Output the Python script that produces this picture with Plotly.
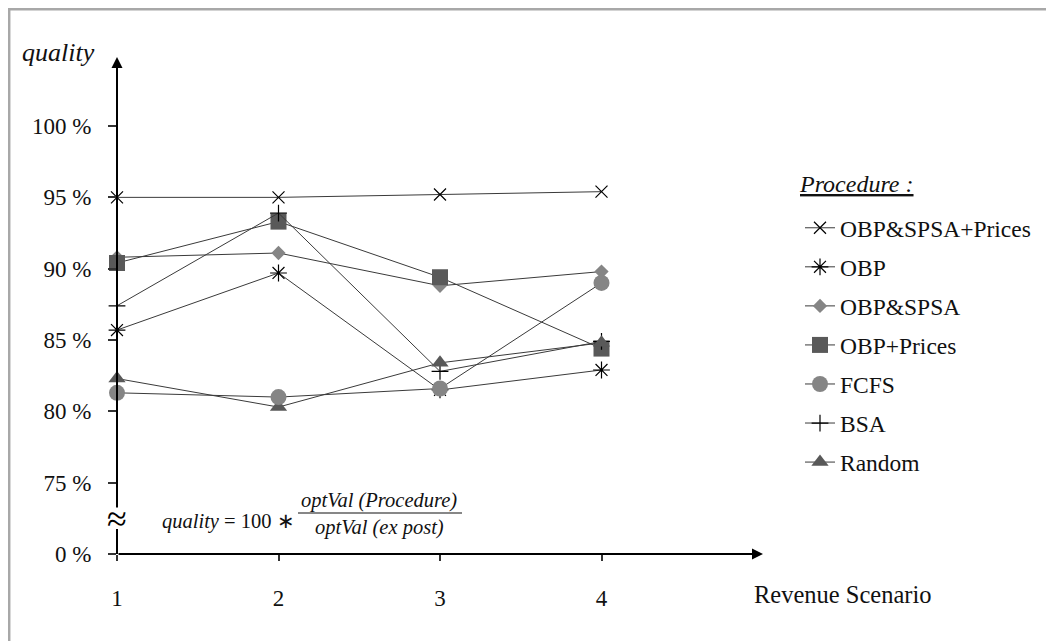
import plotly.graph_objects as go

# ---------------- data ----------------
scenarios = [1, 2, 3, 4]
procedures = ["OBP&SPSA+Prices", "OBP", "OBP&SPSA", "OBP+Prices", "FCFS", "BSA", "Random"]
q_obp_spsa_prices = [95.0, 95.0, 95.2, 95.4]
q_obp = [85.7, 89.7, 81.5, 82.9]
q_obp_spsa = [90.8, 91.1, 88.8, 89.8]
q_obp_prices = [90.4, 93.3, 89.4, 84.4]
q_fcfs = [81.3, 81.0, 81.6, 89.0]
q_bsa = [87.4, 93.9, 82.8, 84.9]
q_random = [82.3, 80.3, 83.4, 84.8]
y_tick_vals = [70, 75, 80, 85, 90, 95, 100]
y_tick_text = ["0 %", "75 %", "80 %", "85 %", "90 %", "95 %", "100 %"]
x_tick_text = ["1", "2", "3", "4"]

FONT = "Liberation Serif"
W, H = 1054, 641
OFF = 8  # default page body margin
L, R, T, B = 117, 763, 57, 554  # plot area in page pixels
FW, FH = W - OFF, H - OFF
Y0, Y1 = 70, 104.84
X0, X1 = 1, 5


def px(x):
    return (x - L) / (R - L)


def py(y):
    return (B - y) / (B - T)


def yv(p):  # page pixel row -> y-axis value (for axis drawing)
    return Y0 + (B - p) * (Y1 - Y0) / (B - T)


styles = [
    dict(symbol="x-thin", size=12, color="black", line=dict(width=1.2, color="black")),
    dict(symbol="asterisk", size=14, color="black", line=dict(width=1.2, color="black")),
    dict(symbol="diamond", size=11, color="#858585", line=dict(width=0)),
    dict(symbol="square", size=16, color="#595959", line=dict(width=0)),
    dict(symbol="circle", size=16, color="#858585", line=dict(width=0)),
    dict(symbol="cross-thin", size=12, color="black", line=dict(width=1.2, color="black")),
    dict(symbol="triangle-up", size=15, color="#595959", line=dict(width=0)),
]
series = [q_obp_spsa_prices, q_obp, q_obp_spsa, q_obp_prices, q_fcfs, q_bsa, q_random]
order = [0, 1, 2, 3, 5, 6, 4]  # drawing order (FCFS on top)

fig = go.Figure()
for i in order:
    fig.add_trace(go.Scatter(
        x=scenarios, y=series[i], name=procedures[i], mode="lines+markers",
        line=dict(color="#3a3a3a", width=1), marker=styles[i],
        legendgroup=procedures[i], legendrank=i + 1, cliponaxis=False,
    ))

fig.update_layout(
    width=FW, height=FH,
    margin=dict(l=L - OFF, r=FW - (R - OFF), t=T - OFF, b=FH - (B - OFF), pad=0),
    paper_bgcolor="white", plot_bgcolor="white",
    font=dict(family=FONT, size=23, color="#111"),
    showlegend=True,
    legend=dict(
        x=px(800), y=py(206), xanchor="left", yanchor="top",
        font=dict(family=FONT, size=23.5, color="#111"),
        tracegroupgap=5.5, bgcolor="rgba(0,0,0,0)",
    ),
    xaxis=dict(
        range=[X0, X1], tickvals=scenarios, ticktext=x_tick_text, ticks="outside",
        ticklen=6, tickcolor="#333", tickwidth=1.5, showgrid=False, zeroline=False,
        showline=False, ticklabelstandoff=17, tickfont=dict(size=23, family=FONT),
    ),
    yaxis=dict(
        range=[Y0, Y1], tickvals=y_tick_vals, ticktext=y_tick_text, ticks="outside",
        ticklen=8, tickcolor="#333", tickwidth=1.5, showgrid=False, zeroline=False,
        showline=False, ticklabelstandoff=12, tickfont=dict(size=23, family=FONT),
    ),
)


def label(x, y, text, size, xanchor="center", **kw):
    fig.add_annotation(x=px(x), y=py(y), xref="paper", yref="paper", text=text,
                       showarrow=False, xanchor=xanchor, yanchor="middle",
                       font=dict(size=size, family=FONT, color="#111"), **kw)


# axes with arrows (y axis interrupted by the break sign)
fig.add_annotation(x=X1, y=Y0, ax=X0, ay=Y0, xref="x", yref="y", axref="x", ayref="y",
                   showarrow=True, arrowhead=2, arrowsize=1.1, arrowwidth=2, arrowcolor="black", text="")
fig.add_annotation(x=X0, y=Y1, ax=X0, ay=yv(509), xref="x", yref="y", axref="x", ayref="y",
                   showarrow=True, arrowhead=2, arrowsize=1.1, arrowwidth=2, arrowcolor="black", text="")
fig.add_shape(type="line", xref="paper", yref="paper", x0=0, x1=0, y0=0, y1=py(529),
              line=dict(color="black", width=2))
# axis break
fig.add_annotation(x=px(117), y=py(519), xref="paper", yref="paper", text="≈", showarrow=False,
                   xanchor="center", yanchor="middle",
                   font=dict(size=36, family=FONT, color="black"))

# axis titles
label(58, 52, "<i>quality</i>", 26)
label(752, 594, "Revenue Scenario", 24.5, xanchor="left")

# legend heading
label(797, 184, "<u><i>Procedure :</i></u>", 24, xanchor="left")

# formula
label(160, 521, "<i>quality</i> = 100 ∗", 20.5, xanchor="left")
label(379, 500, "<i>optVal (Procedure)</i>", 20.5)
label(379, 527, "<i>optVal (ex post)</i>", 20.5)
fig.add_shape(type="line", xref="paper", yref="paper", x0=px(298), x1=px(462),
              y0=py(513), y1=py(513), line=dict(color="#111", width=1.2))

# frame
fig.add_shape(type="line", xref="paper", yref="paper", x0=px(9.2), x1=px(9.2), y0=py(9), y1=py(660),
              line=dict(color="#a8a8a8", width=2.5))
fig.add_shape(type="line", xref="paper", yref="paper", x0=px(8), x1=px(1070), y0=py(9.2), y1=py(9.2),
              line=dict(color="#a8a8a8", width=2.5))

fig.write_html("out.html")
